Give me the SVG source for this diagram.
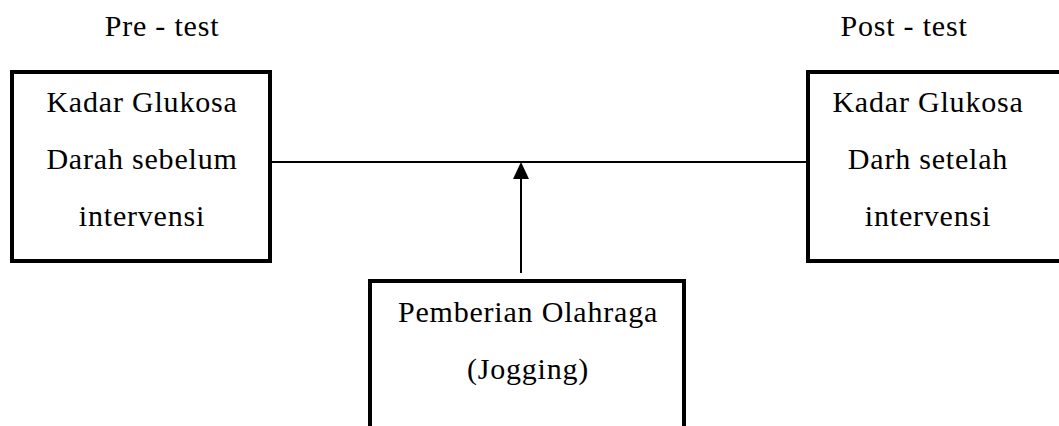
<svg xmlns="http://www.w3.org/2000/svg" width="1059" height="426" viewBox="0 0 1059 426">
<style>
.box{fill:#fff;stroke:#000;stroke-width:4}
.t{font-family:"Liberation Serif","Times New Roman",serif;font-size:30px;letter-spacing:0.8px;fill:#000;text-anchor:middle}
.c{stroke:#000;stroke-width:2;fill:none}
</style>
<rect width="1059" height="426" fill="#fff"/>
<text class="t" x="162" y="36">Pre - test</text>
<text class="t" x="904" y="36">Post - test</text>
<g id="connectors">
<line class="c" x1="272" y1="162" x2="806" y2="162"/>
<line class="c" x1="521" y1="273" x2="521" y2="176"/>
<path d="M521,162 L513,179 L529,179 Z" fill="#000"/>
</g>
<g id="pre">
<rect class="box" x="12" y="72" width="258" height="189"/>
<text class="t" x="142" y="112">Kadar Glukosa</text>
<text class="t" x="142" y="169">Darah sebelum</text>
<text class="t" x="142" y="226">intervensi</text>
</g>
<g id="post">
<rect class="box" x="808" y="72" width="270" height="189"/>
<text class="t" x="928" y="112">Kadar Glukosa</text>
<text class="t" x="928" y="169">Darh setelah</text>
<text class="t" x="928" y="226">intervensi</text>
</g>
<g id="intervention">
<rect class="box" x="370" y="281" width="314" height="170"/>
<text class="t" x="528" y="322">Pemberian Olahraga</text>
<text class="t" x="528" y="379">(Jogging)</text>
</g>
</svg>
